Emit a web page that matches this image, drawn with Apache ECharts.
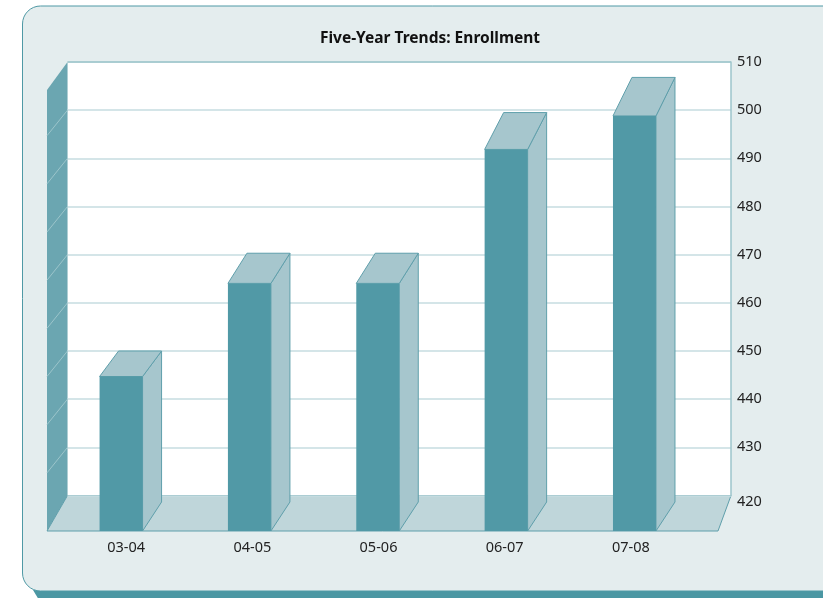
<!DOCTYPE html>
<html>
<head>
<meta charset="utf-8">
<script src="https://cdn.jsdelivr.net/npm/echarts@6/dist/echarts.min.js"></script>
<style>
html, body { margin: 0; padding: 0; background: #fff; }
#chart { width: 823px; height: 598px; }
</style>
</head>
<body>
<div id="chart"></div>
<script>
var categories = ['03-04', '04-05', '05-06', '06-07', '07-08'];
var enrollment = [450, 470.3, 470.3, 499.5, 506.8];
var wallTicks = [430, 440, 450, 460, 470, 480, 490, 500];
var yMin = 420;
var yMax = 510;
var yStep = 10;

var fontName = '"Noto Sans", sans-serif';
var edgeColor = '#5f9fab';
var faceColor = '#5199a6';
var sideColor = '#a6c6cd';
var lineColor = '#c6dce0';
var wallEdge = '#9cc5cb';

var chart = echarts.init(document.getElementById('chart'));

// bars: the value sets the back top edge, the front face hangs off it
function renderBar(params, api) {
    var top = api.coord([api.value(0), api.value(1)]);
    var base = api.coord([api.value(0), yMin]);
    var cx = top[0];
    var depthY = 25.5 + (351 - top[1]) * 0.0476;
    var halfW = 21.5;
    var depthX = 19;
    var fl = cx - depthX - halfW;
    var fr = cx - depthX + halfW;
    var bl = cx - halfW;
    var br = cx + halfW;
    var backY = top[1];
    var frontY = backY + depthY;
    var floorY = base[1] + 35.5;
    var sideStyle = { fill: sideColor, stroke: edgeColor, lineWidth: 1 };
    return {
        type: 'group',
        children: [
            { type: 'polygon', shape: { points: [[fr, frontY], [br, backY], [br, base[1] + 6.5], [fr, floorY]] }, style: sideStyle },
            { type: 'polygon', shape: { points: [[fl, frontY], [bl, backY], [br, backY], [fr, frontY]] }, style: sideStyle },
            { type: 'rect', shape: { x: fl, y: frontY, width: fr - fl, height: floorY - frontY }, style: { fill: faceColor } }
        ]
    };
}

// the grid lines carry on down the left wall
function renderWallLine(params, api) {
    var p = api.coord([0, api.value(0)]);
    return {
        type: 'line',
        shape: { x1: p[0], y1: p[1], x2: p[0] - 20.5, y2: p[1] + 25.5 },
        style: { stroke: wallEdge, lineWidth: 1 }
    };
}

var option = {
    backgroundColor: '#fff',
    animation: false,
    title: {
        text: 'Five-Year Trends: Enrollment',
        left: 425,
        top: 26,
        textAlign: 'center',
        textStyle: { fontFamily: fontName, fontWeight: 'bold', fontSize: 15.5, color: '#111' }
    },
    graphic: {
        elements: [
            { type: 'polygon', z: -3, shape: { points: [[33, 590], [830, 590], [830, 600], [39, 600]] }, style: { fill: '#4b97a3' } },
            { type: 'rect', z: -2, shape: { x: 22.5, y: 6, width: 860, height: 585, r: 18 }, style: { fill: '#e4edee', stroke: '#4f99a5', lineWidth: 1 } },
            { type: 'rect', z: -1, shape: { x: 67.5, y: 62, width: 663.5, height: 433.5 }, style: { fill: '#fff' } },
            { type: 'polygon', z: -1, shape: { points: [[67.5, 62], [67.5, 495.5], [47, 531], [47, 90]] }, style: { fill: '#6ba6b1' } },
            { type: 'polygon', z: -1, shape: { points: [[67.5, 495.5], [731, 495.5], [718, 531], [47, 531]] }, style: { fill: '#bfd6da', stroke: edgeColor, lineWidth: 1 } },
            { type: 'line', z: 1, shape: { x1: 67.5, y1: 62, x2: 731, y2: 62 }, style: { stroke: wallEdge, lineWidth: 1.5 } }
        ]
    },
    grid: [
        { left: 67.5, top: 62, width: 663.5, height: 433.5 },
        { left: 75.9, top: 62, width: 641.75, height: 433.5 },
        { left: 63, top: 62, width: 631, height: 469 }
    ],
    xAxis: [
        { gridIndex: 0, type: 'value', min: 0, max: 1, show: false },
        { gridIndex: 1, type: 'category', data: categories, show: false },
        {
            gridIndex: 2,
            type: 'category',
            data: categories,
            axisLine: { show: false },
            axisTick: { show: false },
            axisLabel: { fontFamily: fontName, fontSize: 14.5, color: '#222', margin: 9 }
        }
    ],
    yAxis: [
        {
            gridIndex: 0,
            type: 'value',
            position: 'right',
            min: yMin,
            max: yMax,
            interval: yStep,
            axisLine: { show: true, onZero: false, lineStyle: { color: wallEdge, width: 1.5 } },
            axisTick: { show: false },
            axisLabel: {
                fontFamily: fontName,
                fontSize: 14.5,
                color: '#222',
                margin: 6,
                formatter: function(value) {
                    return value === yMin ? '{low|' + value + '}' : '' + value;
                },
                rich: { low: { fontFamily: fontName, fontSize: 14.5, color: '#222', padding: [12, 0, 0, 0] } }
            },
            splitLine: { show: true, lineStyle: { color: lineColor, width: 1.5 } }
        },
        { gridIndex: 1, type: 'value', min: yMin, max: yMax, interval: yStep, show: false },
        { gridIndex: 2, type: 'value', min: 0, max: 1, show: false }
    ],
    series: [
        {
            type: 'custom',
            xAxisIndex: 0,
            yAxisIndex: 0,
            clip: false,
            renderItem: renderWallLine,
            encode: { y: 0 },
            data: wallTicks.map(function(t) { return [t]; })
        },
        {
            type: 'custom',
            xAxisIndex: 1,
            yAxisIndex: 1,
            clip: false,
            renderItem: renderBar,
            encode: { x: 0, y: 1 },
            data: enrollment.map(function(v, i) { return [i, v]; })
        }
    ]
};

chart.setOption(option);
</script>
</body>
</html>
